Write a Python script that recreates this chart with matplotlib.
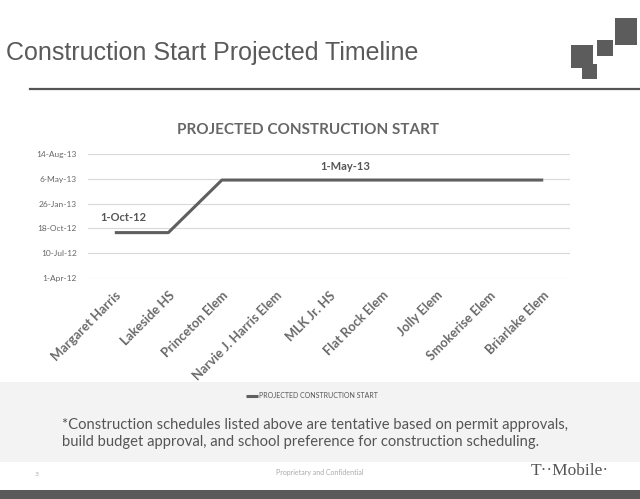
import matplotlib
matplotlib.use("Agg")
import matplotlib.pyplot as plt
import matplotlib.dates as mdates
from matplotlib.patches import Rectangle
from datetime import date

schools = ["Margaret Harris", "Lakeside HS", "Princeton Elem", "Narvie J. Harris Elem",
           "MLK Jr. HS", "Flat Rock Elem", "Jolly Elem", "Smokerise Elem", "Briarlake Elem"]
start_dates = [date(2012, 10, 1), date(2012, 10, 1), date(2013, 5, 1), date(2013, 5, 1),
               date(2013, 5, 1), date(2013, 5, 1), date(2013, 5, 1), date(2013, 5, 1),
               date(2013, 5, 1)]
tick_dates = [date(2012, 4, 1), date(2012, 7, 10), date(2012, 10, 18),
              date(2013, 1, 26), date(2013, 5, 6), date(2013, 8, 14)]
tick_labels = ["1-Apr-12", "10-Jul-12", "18-Oct-12", "26-Jan-13", "6-May-13", "14-Aug-13"]
annotations = [(0, "1-Oct-12"), (4, "1-May-13")]

W, H = 640, 499
fig = plt.figure(figsize=(W / 100, H / 100), dpi=100)
fig.patch.set_facecolor("white")

# light scanned band behind footnote
fig.patches.append(Rectangle((0, 1 - 462 / H), 1, 80 / H, transform=fig.transFigure,
                             facecolor="#f3f3f3", edgecolor="none", zorder=0))
# bottom dark bar
fig.patches.append(Rectangle((0, 0), 1, 9 / H, transform=fig.transFigure,
                             facecolor="#5a5a5a", edgecolor="none", zorder=0))
# title rule
fig.add_artist(plt.Line2D([30 / W, 1.0], [1 - 89 / H, 1 - 89 / H], color="#555555", lw=1.6))
# decorative squares (x, y_top, w, h) in px
for (sx, sy, sw, sh) in [(571, 45, 22, 23), (582, 64, 15, 15), (597, 40, 16, 16), (615, 18, 22, 27)]:
    fig.patches.append(Rectangle((sx / W, 1 - (sy + sh) / H), sw / W, sh / H,
                                 transform=fig.transFigure, facecolor="#5c5c5c",
                                 edgecolor="none"))

fig.text(6 / W, 1 - 53 / H, "Construction Start Projected Timeline", fontsize=18,
         family="Liberation Sans", color="#5a5a5a", va="center", ha="left")

ax = fig.add_axes([88 / W, 1 - 278 / H, (570 - 88) / W, (278 - 154) / H])
x = list(range(len(schools)))
y = [mdates.date2num(d) for d in start_dates]
line, = ax.plot(x, y, color="#5f5f5f", lw=2.2, solid_capstyle="butt",
                label="PROJECTED CONSTRUCTION START")
ax.set_xlim(-0.5, len(schools) - 0.5)
yt = [mdates.date2num(d) for d in tick_dates]
ax.set_ylim(yt[0], yt[-1])
ax.set_yticks(yt)
ax.set_yticklabels(tick_labels, fontsize=6, color="#666666", family="Lato")
ax.grid(axis="y", color="#d9d9d9", lw=0.8)
ax.set_axisbelow(True)
for s in ax.spines.values():
    s.set_visible(False)
ax.tick_params(axis="y", length=0, pad=8)
ax.tick_params(axis="x", length=0, pad=8)
ax.set_xticks(x)
ax.set_xticklabels(schools, rotation=45, ha="right", rotation_mode="anchor",
                   fontsize=9.3, fontweight="bold", color="#6a6a6a", family="Lato")
ax.set_facecolor("none")

label_offsets = [(6, 11), (12, 10)]
for (i, txt), off in zip(annotations, label_offsets):
    ax.annotate(txt, (x[i], y[i]), xytext=off, textcoords="offset points",
                ha="center", va="center", fontsize=8, fontweight="bold",
                color="#555555", family="Lato")

fig.text(308 / W, 1 - 130 / H, "PROJECTED CONSTRUCTION START", fontsize=11,
         fontweight="bold", color="#666666", family="Lato", ha="center", va="center")

fig.legend(handles=[line], loc="center", bbox_to_anchor=(312 / W, 1 - 396 / H),
           frameon=False, handlelength=1.8, handletextpad=0.1,
           labelcolor="#555555", prop={"family": "Lato", "size": 5})

fig.text(62 / W, 1 - 425 / H,
         "*Construction schedules listed above are tentative based on permit approvals,",
         fontsize=10.6, family="Lato", color="#555555", va="center", ha="left")
fig.text(62 / W, 1 - 442 / H,
         "build budget approval, and school preference for construction scheduling.",
         fontsize=10.6, family="Lato", color="#555555", va="center", ha="left")

fig.text(37 / W, 1 - 474 / H, "3", fontsize=4.5, color="#aaaaaa", ha="center", va="center")
fig.text(320 / W, 1 - 473 / H, "Proprietary and Confidential", fontsize=5, color="#aaaaaa",
         family="Lato", ha="center", va="center")
fig.text(570 / W, 1 - 471 / H, "T··Mobile·", fontsize=12.5, color="#555555",
         family="Liberation Serif", ha="center", va="center")

fig.savefig("out.png", dpi=100)
